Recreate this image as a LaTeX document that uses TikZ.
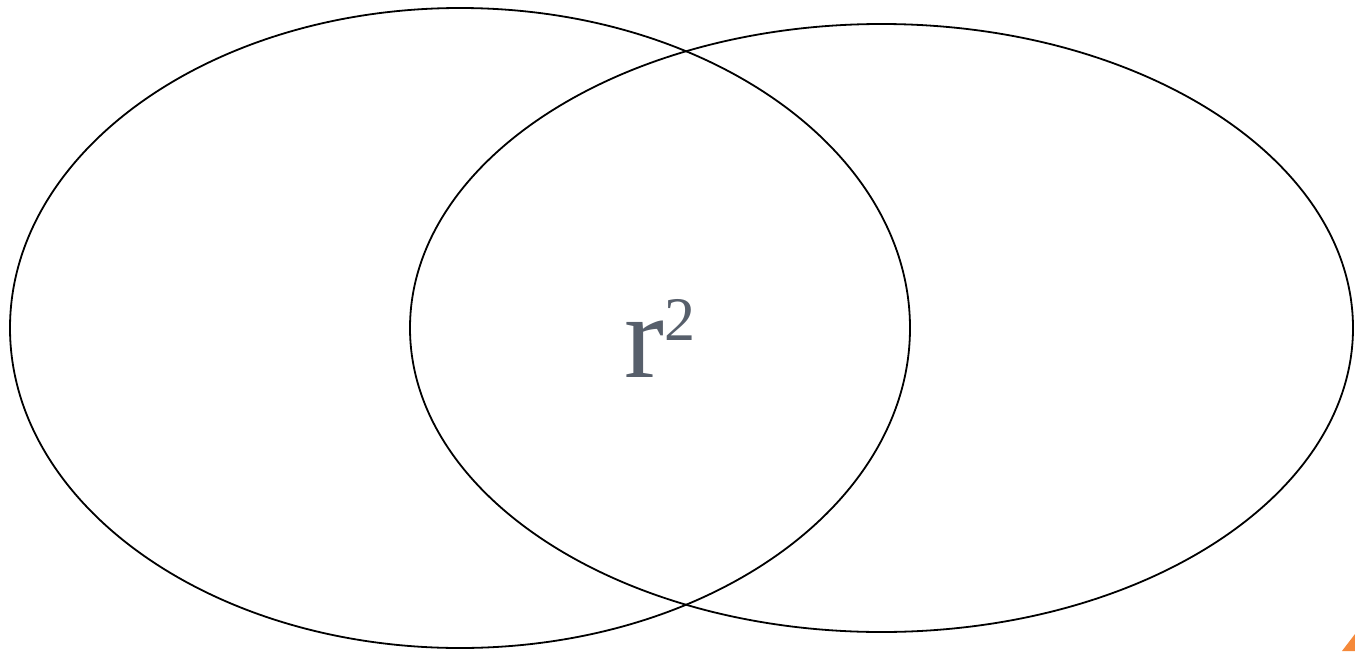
\documentclass[tikz,border=0pt]{standalone}
\usepackage{fontspec}
\setmainfont{Liberation Serif}
\usepackage{tikz}
\usetikzlibrary{shapes.geometric}
\definecolor{labelgrey}{HTML}{575F6B}
\definecolor{cornerorange}{HTML}{F5893A}

\begin{document}
\begin{tikzpicture}[x=1pt, y=-1pt, set/.style={draw, ellipse, line width=1.8pt, inner sep=0pt}]
	\useasboundingbox (0,0) rectangle (1355,651);
	\node[set, minimum width=900pt, minimum height=640pt] (left) at (460,328) {};
	\node[set, minimum width=943pt, minimum height=608pt] (right) at (881.5,328) {};
	\node[labelgrey, anchor=base west, inner sep=0pt, font=\fontsize{120}{140}\selectfont] (overlap) at (624,377) {r\raisebox{37pt}{\fontsize{62}{70}\selectfont 2}};
	\fill[cornerorange] (1342,651) -- (1355,634) -- (1355,651) -- cycle;
\end{tikzpicture}
\end{document}
